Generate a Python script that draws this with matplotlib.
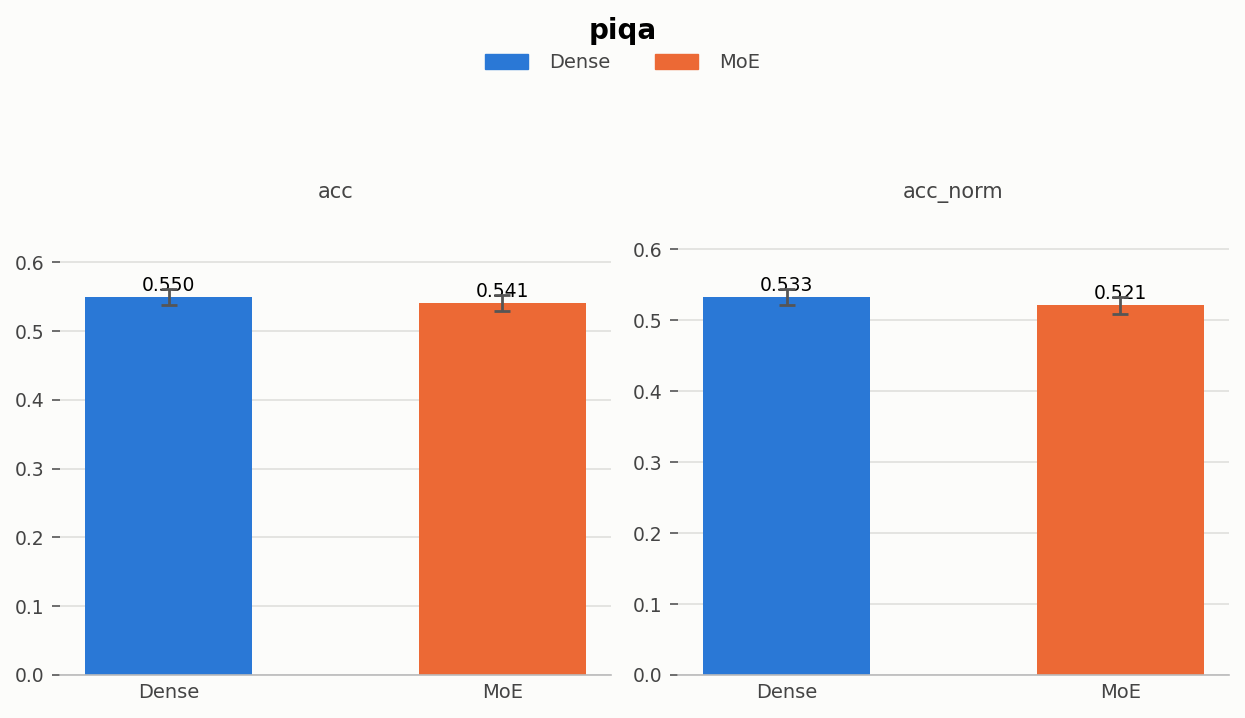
import matplotlib.pyplot as plt

# piqa 결과 데이터
models = ['Dense', 'MoE']
metrics = ['acc', 'acc_norm']
acc_vals = [0.550, 0.541]
acc_err = [0.0116, 0.0116]
acc_norm_vals = [0.533, 0.521]
acc_norm_err = [0.0116, 0.0117]

colors = ['#2A78D6', '#EC6935']
bg = '#FCFCFA'

fig = plt.figure(figsize=(12.45, 7.18), dpi=100, facecolor=bg)
fig.suptitle('piqa', fontsize=20, fontweight='bold', y=0.977)

panels = [(acc_vals, acc_err), (acc_norm_vals, acc_norm_err)]
lefts = [60 / 1245, 678 / 1245]
for i, (vals, errs) in enumerate(panels):
    ax = fig.add_axes([lefts[i], 43 / 718, 551 / 1245, 435 / 718])
    ax.set_facecolor(bg)
    x = range(len(models))
    ax.bar(x, vals, width=0.5, color=colors, zorder=2)
    for xi, v in zip(x, vals):
        ax.annotate(f'{v:.3f}', (xi, v), xytext=(0, 1.5), textcoords='offset points',
                    ha='center', va='bottom', fontsize=13.5, color='black', zorder=3)
    ax.errorbar(x, vals, yerr=errs, fmt='none', ecolor='#555555',
                elinewidth=2, capsize=5.5, capthick=2, zorder=4)
    ax.set_ylim(0, max(vals) * 1.15)
    ax.set_xticks(list(x))
    ax.set_xticklabels(models)
    ax.set_title(metrics[i], fontsize=15, color='#444444', pad=30)
    ax.grid(axis='y', color='#E0E0DC', linewidth=1.2, zorder=0)
    ax.set_axisbelow(True)
    for s in ['top', 'right', 'left']:
        ax.spines[s].set_visible(False)
    ax.spines['bottom'].set_color('#BBBBBB')
    ax.spines['bottom'].set_linewidth(1.2)
    ax.tick_params(axis='x', length=0, labelsize=14, colors='#444444', pad=6)
    ax.tick_params(axis='y', length=6, width=1.2, color='#555555',
                   labelsize=13.5, labelcolor='#444444', pad=5)

handles = [plt.Rectangle((0, 0), 1, 1, color=c) for c in colors]
fig.legend(handles, models, loc='upper center', bbox_to_anchor=(0.5, 0.95), ncol=2,
           frameon=False, fontsize=14, labelcolor='#444444', handlelength=2.2,
           handleheight=0.8, columnspacing=2.3, handletextpad=1.1)

fig.savefig('out.png', dpi=100, facecolor=bg)
